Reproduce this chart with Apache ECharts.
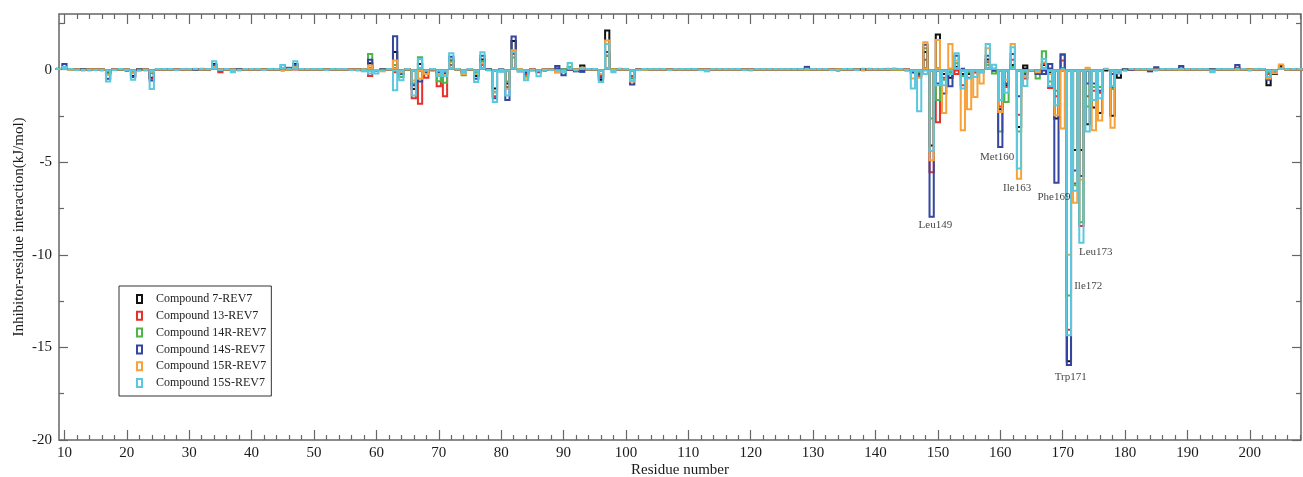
<!DOCTYPE html>
<html>
<head>
<meta charset="utf-8">
<script src="https://cdn.jsdelivr.net/npm/echarts@6/dist/echarts.min.js"></script>
<style>
  html, body { margin: 0; padding: 0; background: #fff; }
  #chart { width: 1303px; height: 477px; }
</style>
</head>
<body>
<div id="chart"></div>
<script>
// residue numbers 9..208 (x categories)
var firstResidue = 9, lastResidue = 208;
var residues = [];
for (var r = firstResidue; r <= lastResidue; r++) residues.push(r);

// interaction energies (kJ/mol), one row per decade: 9-19, 20-29, ... 200-208
var cmp7 = [
  0.05, 0.1, 0.05, 0, 0, 0, 0, 0, -0.2, 0, 0,
  -0.1, -0.4, 0, 0, -0.5, 0, 0, 0, 0, 0,
  0, 0, 0, 0, 0.35, -0.1, 0, 0, 0, 0,
  0, 0, 0, 0, 0, 0.05, 0, 0.35, 0, 0,
  0, 0, 0, 0, 0, 0, 0, 0, -0.12, 0.4,
  -0.05, 0, 0, 1.0, -0.1, 0, -1.1, 0.35, -0.1, 0,
  -0.3, -0.3, 0.5, 0.05, -0.2, 0, -0.4, 0.6, 0, -1.08,
  -0.05, -0.8, 1.6, -0.05, -0.2, 0, -0.1, -0.1, 0, 0.1,
  0, 0, 0, 0.27, 0, 0, -0.6, 2.16, 0, 0,
  0, -0.5, 0, 0.05, 0, 0, 0, 0, 0, 0,
  0, 0, 0, 0, 0, 0, 0, 0, 0, 0,
  0, 0, 0, 0, 0, 0, 0, 0, 0, 0,
  0, 0, 0, 0, 0, 0, 0, 0, 0, 0,
  0, 0, 0, 0, 0, 0, -0.2, -0.2, 1.0, -4.15,
  1.95, -0.3, -0.5, 0.2, -0.3, -0.3, -0.2, -0.1, 0.6, -0.1,
  -2.2, -0.9, 0.3, -3.15, 0.27, -0.05, -0.2, 0.3, -0.2, -2.7,
  -0.1, -15.8, -4.4, -4.4, -3.0, -2.1, -2.4, -0.1, -2.55, -0.49,
  0, 0, 0, 0, 0, 0, 0, 0, 0, 0,
  0, 0, 0, 0, 0, 0, 0, 0, 0, 0,
  0, 0, 0, -0.9, -0.3, 0.25, 0.05, 0, 0
];
var cmp13 = [
  0.05, 0.05, 0, 0, 0, 0, 0, 0, -0.3, 0, 0,
  0, -0.2, 0, 0, -0.55, 0, 0, 0, 0.05, 0,
  0, 0, 0, 0, 0.1, -0.2, 0, -0.1, 0, 0,
  0, 0, 0, 0, 0, 0, 0, 0, 0, 0,
  0, 0, 0, 0, 0, 0, 0, 0, 0, -0.4,
  -0.1, 0, 0.05, -0.2, -0.1, 0, -1.6, -1.9, -0.5, -0.1,
  -0.95, -1.5, 0.3, 0, -0.2, 0, -0.3, 0.3, 0, -1.5,
  -0.1, -1.0, 0.9, 0, -0.3, 0, -0.2, 0, 0, -0.2,
  -0.1, 0, 0, 0.1, 0, 0, -0.4, 0.8, 0, 0,
  0, -0.4, 0, 0, 0, 0, 0, 0, 0, 0,
  0, 0, 0, 0, 0, 0, 0, 0, 0, 0,
  0, 0, 0, 0, 0, 0, 0, 0, 0, 0,
  0, 0, 0, 0, 0, 0, 0, 0, 0, 0,
  0, 0, 0, 0, 0, 0, -0.1, -0.4, 0.58, -5.6,
  -2.9, -0.5, -0.3, -0.3, -0.9, -0.5, -0.2, -0.1, 0.45, -0.05,
  -2.05, -1.0, 0.58, -2.5, -0.54, -0.1, -0.2, 0.35, -1.05, -1.5,
  0.54, -14.1, -6.2, -8.5, -1.5, -1.2, -1.3, 0.05, -1.0, -0.2,
  0, 0, 0, 0, -0.1, 0.1, 0, 0, 0, 0,
  0, 0, 0, 0, 0, 0, 0, 0, 0.15, 0,
  0, 0, 0, -0.3, -0.1, 0.15, 0, 0, 0
];
var cmp14R = [
  0.05, 0.05, 0, 0, 0, 0, 0, 0, -0.25, 0, 0,
  0, -0.15, 0, 0, -0.25, 0, 0, 0, 0, 0.05,
  0, 0, 0, 0, 0.2, 0, 0, 0, 0, 0,
  0, 0, 0, 0, 0, -0.1, 0, 0.1, 0, 0,
  0, 0, 0, 0, 0, 0, 0, 0, 0, 0.9,
  -0.05, 0, 0, 0.3, -0.45, 0, -0.8, 0.72, -0.3, 0,
  -0.68, -0.77, 0.6, 0, -0.36, 0, -0.2, 0.5, 0, -1.25,
  0, -0.7, 0.7, 0, -0.4, -0.1, -0.1, 0, 0, 0,
  0, 0.2, 0, 0, 0, 0, -0.3, 0.8, 0, 0,
  0, -0.5, 0, 0, 0, 0, 0, 0, 0, 0,
  0, 0, 0, 0, 0, 0, 0, 0, 0, 0,
  0, 0, 0, 0, 0, 0, 0, 0, 0, 0,
  0, 0, 0, 0, 0, 0, 0, 0, 0, 0,
  0, 0, 0, 0, 0, -0.1, -0.1, -0.2, 1.2, -2.7,
  -1.7, -0.6, -0.2, 0.4, -0.4, -0.2, -0.1, -0.1, 0.3, -0.27,
  -3.4, -1.8, 0.2, -3.4, -0.2, -0.1, -0.54, 1.04, -0.7, -1.2,
  0.9, -12.25, -6.3, -8.3, -2.05, -1.0, -1.0, 0.05, -1.1, -0.1,
  0, 0.05, 0, 0, 0, 0, 0, 0, 0, 0,
  -0.05, 0, 0, 0, 0, 0, 0, 0, 0, 0,
  0, 0, 0, -0.2, -0.1, 0.05, 0, 0, 0
];
var cmp14S = [
  0.1, 0.35, 0.05, 0, 0, 0, 0, 0, -0.55, 0, 0,
  0, -0.45, 0, 0, -0.65, 0, 0, 0, 0, 0,
  0, 0, 0, 0, 0.3, 0, 0, 0, 0, 0,
  0, 0, 0, 0, 0, 0.3, 0.15, 0.3, 0, 0,
  0, 0, 0, 0, 0, 0, 0, 0, -0.05, 0.58,
  -0.1, 0, 0, 1.85, -0.3, 0, -0.9, -0.7, -0.2, 0,
  -0.2, -0.25, 0.75, 0, -0.15, 0, -0.55, 0.8, 0, -1.6,
  0, -1.7, 1.84, -0.15, -0.2, 0, -0.15, 0, 0, 0.24,
  -0.36, 0, -0.15, -0.18, 0, 0, -0.5, 1.0, -0.1, 0,
  0, -0.86, 0.05, 0.05, 0, 0, 0, 0, 0, 0,
  0, 0, 0, 0, 0, 0, 0, 0, 0, 0,
  0, 0, 0, 0, 0, 0, 0, 0, 0, 0.2,
  0, 0, 0, 0, -0.1, 0, 0, 0, 0, 0,
  0, 0, 0, 0.1, 0.05, 0, -0.2, -0.3, 1.4, -8.0,
  -0.8, -1.35, -0.95, 0.8, 0.1, -0.1, -0.1, -0.2, 0.8, -0.1,
  -4.23, -0.8, 0.9, -1.5, -0.3, -0.1, -0.3, -0.3, 0.36, -6.16,
  0.85, -16.0, -5.5, -5.8, -0.8, -0.8, -1.2, 0.05, -0.3, -0.25,
  0, 0, 0, 0, -0.15, 0.18, 0, 0, 0, 0.25,
  0, 0, 0, 0, 0, 0, 0, 0, 0.3, 0,
  -0.05, 0, 0, -0.6, -0.2, 0.1, 0, 0, 0
];
var cmp15R = [
  0.05, 0.1, 0, 0, -0.05, 0, 0, 0, -0.35, 0, 0,
  0, -0.25, -0.1, 0, -0.15, 0, 0, 0, 0, 0,
  0, 0.1, 0, 0, 0.2, 0, 0, 0, -0.05, 0,
  0, 0, 0, 0, 0, -0.1, 0, 0.2, 0, 0,
  0, 0, 0, 0, 0, 0, 0, 0, -0.05, 0.27,
  -0.05, -0.15, 0, 0.55, -0.2, 0, -0.65, -0.55, -0.3, 0,
  -0.3, -0.35, 0.45, 0, -0.3, 0, -0.3, 0.4, -0.1, -1.3,
  -0.05, -1.1, 1.1, 0, -0.5, 0, -0.1, 0, 0, -0.2,
  -0.1, 0.1, 0, 0.15, 0, 0, -0.3, 1.62, 0, 0,
  0, -0.7, 0, 0, 0, 0, 0, 0, 0, 0,
  0, 0, 0, 0, 0, 0, 0, 0, 0, 0,
  0, 0, 0, 0, 0, 0, 0, 0, 0, 0,
  0, 0, 0, 0, 0, 0, 0, 0, -0.1, 0,
  0, 0, 0, 0, 0, 0, -0.54, -0.5, 1.53, -4.95,
  1.65, -2.4, 1.44, 0.54, -3.33, -2.2, -1.53, -0.81, 1.2, 0.1,
  -2.35, -0.6, 1.44, -5.95, -0.4, -0.05, -0.2, 0.45, -0.3, -2.52,
  -3.24, -10.05, -7.25, -6.0, 0.15, -3.33, -2.8, 0.05, -3.2, -0.1,
  -0.1, 0.05, 0, 0, 0, 0, 0, 0, 0, 0,
  0, 0, 0, 0, -0.15, 0, 0, 0, 0, 0,
  0, 0, 0, -0.54, -0.25, 0.33, 0, 0, 0
];
var cmp15S = [
  0.1, 0.2, 0.05, -0.05, -0.1, -0.1, -0.05, -0.1, -0.7, -0.05, 0.05,
  -0.05, -0.6, -0.1, -0.1, -1.1, 0.05, 0.05, 0.05, -0.05, 0.05,
  0.05, 0.05, 0.1, 0.05, 0.5, -0.05, 0.05, -0.2, -0.1, 0.05,
  0.05, 0.05, -0.05, 0.05, 0.05, 0.3, 0.1, 0.5, 0.05, 0.05,
  0.05, 0.05, -0.05, 0.05, 0.05, 0.05, -0.05, -0.1, -0.15, -0.27,
  -0.27, -0.1, 0.05, -1.17, -0.63, 0.05, -1.45, 0.63, -0.1, 0.05,
  -0.4, -0.4, 0.94, 0.05, -0.2, 0.05, -0.72, 0.99, -0.05, -1.8,
  -0.18, -1.45, 1.0, -0.15, -0.63, -0.1, -0.42, -0.1, -0.05, -0.1,
  -0.2, 0.41, -0.1, 0.1, 0.05, 0.05, -0.72, 1.44, -0.2, 0.1,
  0.05, -0.63, -0.05, 0.05, 0.05, 0.05, 0.05, -0.05, 0.05, 0.05,
  0.05, 0.05, -0.05, -0.15, 0.05, 0.05, 0.05, 0.05, 0.05, -0.05,
  -0.1, 0.05, 0.05, 0.05, 0.05, 0.05, 0.05, 0.05, 0.05, 0.1,
  0.05, 0.05, 0.05, -0.05, -0.1, 0.05, 0.05, -0.05, 0.1, 0.1,
  0.05, 0.05, 0.1, 0.05, 0.05, -0.1, -1.08, -2.3, -0.3, -4.45,
  -0.9, -0.9, -0.3, 0.94, -1.08, -0.54, -0.45, -0.2, 1.44, 0.32,
  -1.7, -1.3, 1.26, -5.4, -0.94, -0.1, -0.1, 0.63, -0.94, -1.98,
  0.1, -14.4, -6.6, -9.4, -3.4, -1.7, -1.6, 0.1, -0.94, -0.25,
  -0.1, 0.05, 0.05, 0.05, 0.05, -0.1, 0.05, 0.05, 0.05, 0.05,
  0.05, 0.05, 0.05, 0.05, -0.2, 0.05, 0.05, 0.05, 0.1, 0.05,
  -0.1, 0.05, 0.05, -0.45, -0.1, 0.05, 0.05, 0.05, 0.05
];

var seriesNames = ['Compound 7-REV7', 'Compound 13-REV7', 'Compound 14R-REV7',
                   'Compound 14S-REV7', 'Compound 15R-REV7', 'Compound 15S-REV7'];
var seriesValues = [cmp7, cmp13, cmp14R, cmp14S, cmp15R, cmp15S];
var seriesColors = ['#111111', '#e8302a', '#4cb648', '#34469f', '#f7a23a', '#5ac8df'];

// tick labels
var xTicks = [10, 20, 30, 40, 50, 60, 70, 80, 90, 100, 110, 120, 130, 140, 150, 160, 170, 180, 190, 200];
var yTicks = [-20, -15, -10, -5, 0];
var yMinorTicks = [-17.5, -12.5, -7.5, -2.5, 2.5];
var xMinorTicks = [];
for (var t = 10; t <= lastResidue; t += 2) if (t % 10 !== 0) xMinorTicks.push(t);

// residue annotations
var notes = [
  { name: 'Leu149', value: [149.6, -8.4] },
  { name: 'Met160', value: [159.5, -4.72] },
  { name: 'Ile163', value: [162.7, -6.4] },
  { name: 'Phe169', value: [168.6, -6.9] },
  { name: 'Trp171', value: [171.3, -16.6] },
  { name: 'Ile172', value: [174.1, -11.7] },
  { name: 'Leu173', value: [175.3, -9.85] }
];

var xMin = 9.13, xMax = 208.2, yMin = -20, yMax = 3;
var gridL = 59, gridR = 2, gridT = 14, gridB = 37;
var serif = 'Liberation Serif';
var tickColor = '#666';

var chart = echarts.init(document.getElementById('chart'));
var barW = (chart.getWidth() - gridL - gridR) / (xMax - xMin);

function xAx(pos, ticks, len, labels, extra) {
  var a = {
    type: 'value', min: xMin, max: xMax, position: pos,
    axisLine: { show: false, onZero: false }, splitLine: { show: false },
    axisTick: { show: true, inside: true, length: len, customValues: ticks,
                lineStyle: { color: tickColor, width: 1.2 } },
    axisLabel: labels ? { customValues: ticks, fontFamily: serif, fontSize: 15, color: '#1a1a1a', margin: 6 }
                      : { show: false }
  };
  return Object.assign(a, extra || {});
}
function yAx(pos, ticks, len, labels, extra) {
  var a = {
    type: 'value', min: yMin, max: yMax, position: pos,
    axisLine: { show: false, onZero: false }, splitLine: { show: false },
    axisTick: { show: true, inside: true, length: len, customValues: ticks,
                lineStyle: { color: tickColor, width: 1.2 } },
    axisLabel: labels ? { customValues: ticks, fontFamily: serif, fontSize: 15, color: '#1a1a1a', margin: 7 }
                      : { show: false }
  };
  return Object.assign(a, extra || {});
}

var series = seriesNames.map(function (name, k) {
  return {
    name: name,
    type: 'bar',
    xAxisIndex: 0, yAxisIndex: 0,
    barWidth: barW,
    barGap: '-100%',
    itemStyle: { color: 'rgba(0,0,0,0)', borderColor: seriesColors[k], borderWidth: 2 },
    data: residues.map(function (r, i) { return [r, seriesValues[k][i]]; })
  };
});
series.push({
  type: 'scatter', xAxisIndex: 0, yAxisIndex: 0, silent: true, z: 10,
  symbolSize: 1, itemStyle: { color: 'rgba(0,0,0,0)' },
  label: { show: true, position: 'inside', formatter: '{b}',
           fontFamily: serif, fontSize: 11, color: '#111' },
  data: notes
});

chart.setOption({
  animation: false,
  backgroundColor: '#fff',
  grid: { left: gridL, right: gridR, top: gridT, bottom: gridB,
          outerBoundsMode: 'none', containLabel: false,
          show: true, borderColor: tickColor, borderWidth: 1.5, backgroundColor: 'transparent' },
  legend: {
    orient: 'vertical', left: 119, top: 286,
    icon: 'path://M0,0L5,0L5,8L0,8Z',
    data: seriesNames.map(function (n, k) {
      return { name: n, itemStyle: { color: 'rgba(0,0,0,0)', borderColor: seriesColors[k], borderWidth: 2 } };
    }),
    formatter: function (n) { return '   ' + n; },
    itemWidth: 5, itemHeight: 8, itemGap: 4.8,
    padding: [7, 5, 7, 17],
    borderColor: '#333', borderWidth: 1,
    textStyle: { fontFamily: serif, fontSize: 12, color: '#222' }
  },
  xAxis: [
    xAx('bottom', xTicks, 10, true, {
      name: 'Residue number', nameLocation: 'middle', nameGap: 23, nameMoveOverlap: false,
      nameTextStyle: { fontFamily: serif, fontSize: 15, color: '#1a1a1a' }
    }),
    xAx('bottom', xMinorTicks, 5, false),
    xAx('top', xTicks, 10, false),
    xAx('top', xMinorTicks, 5, false)
  ],
  yAxis: [
    yAx('left', yTicks, 9, true, {
      name: 'Inhibitor-residue interaction(kJ/mol)', nameLocation: 'middle', nameGap: 32,
      nameMoveOverlap: false,
      nameTextStyle: { fontFamily: serif, fontSize: 15, color: '#1a1a1a' }
    }),
    yAx('left', yMinorTicks, 5, false),
    yAx('right', yTicks, 9, false),
    yAx('right', yMinorTicks, 5, false)
  ],
  series: series
});
</script>
</body>
</html>
